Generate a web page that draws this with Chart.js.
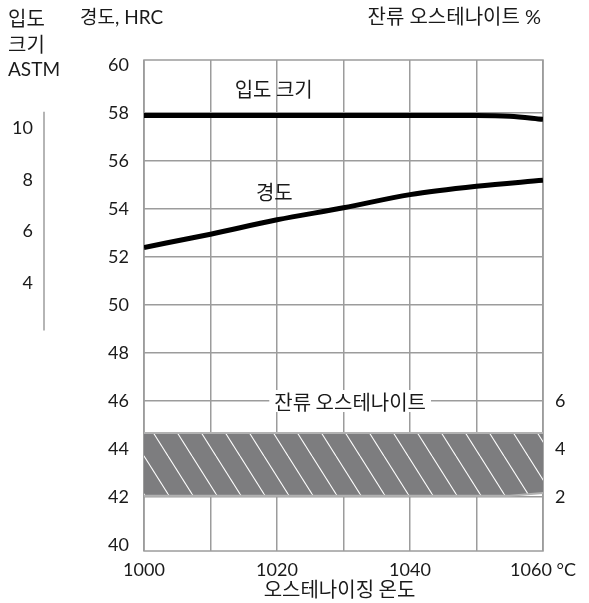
<!DOCTYPE html>
<html lang="ko">
<head>
  <meta charset="UTF-8" />
  <title>경도 / 입도 크기 / 잔류 오스테나이트</title>
  <script src="https://cdn.jsdelivr.net/npm/chart.js"></script>
  <style>
    body { margin: 0; background: #fff; }
    canvas { display: block; }
  </style>
</head>
<body>
  <canvas id="chart" width="589" height="603"></canvas>

  <script>
    // values
    const temps = [1000, 1010, 1020, 1030, 1040, 1050, 1060];
    const hardness = [52.4, 52.95, 53.55, 54.05, 54.6, 54.95, 55.2];

    const grainTemps = [1000, 1050, 1055, 1060];
    const grainSize = [57.9, 57.9, 57.87, 57.74];

    const bandTemps = [1000, 1055, 1060];
    const austeniteTop = [4.67, 4.67, 4.67];
    const austeniteBottom = [2.05, 2.05, 2.17];

    const tempLabels = [1000, 1020, 1040, 1060];
    const hrcTicks = [40, 42, 44, 46, 48, 50, 52, 54, 56, 58, 60];
    const pctTicks = [2, 4, 6];
    const astmTicks = [10, 8, 6, 4];

    const TEXT = '#1a1a1a';
    const GRID = '#9c9c9c';
    const KR = '20px "Noto Sans CJK KR"';
    const NUM = '18px Lato, "Noto Sans CJK KR"';

    const pts = (xs, ys) => xs.map((x, i) => ({ x: x, y: ys[i] }));

    // hatch for the retained austenite band
    const canvas = document.getElementById('chart');
    const tile = document.createElement('canvas');
    tile.width = 24;
    tile.height = 38;
    const t = tile.getContext('2d');
    t.fillStyle = '#7d7d7f';
    t.fillRect(0, 0, 24, 38);
    t.strokeStyle = '#fff';
    t.lineWidth = 1.1;
    [-24, 0, 24].forEach(dx => {
      t.beginPath();
      t.moveTo(dx, 0);
      t.lineTo(dx + 24, 38);
      t.stroke();
    });
    const hatch = canvas.getContext('2d').createPattern(tile, 'repeat');

    const extras = {
      id: 'extras',
      beforeDatasetsDraw(chart) {
        const { ctx, chartArea: a } = chart;
        ctx.save();
        ctx.strokeStyle = GRID;
        ctx.lineWidth = 1.5;
        ctx.strokeRect(a.left, a.top, a.right - a.left, a.bottom - a.top);
        ctx.restore();
      },
      afterDatasetsDraw(chart) {
        const { ctx, chartArea: a } = chart;
        const x = chart.scales.x, y = chart.scales.y;
        const pct = chart.scales.yPct, astm = chart.scales.yAstm;
        ctx.save();
        ctx.fillStyle = TEXT;
        ctx.textBaseline = 'middle';

        // labels inside the plot
        ctx.font = KR;
        ctx.textAlign = 'center';
        ctx.fillText('입도 크기', x.getPixelForValue(1019.5), y.getPixelForValue(59.0));
        ctx.fillText('경도', x.getPixelForValue(1019.6), y.getPixelForValue(54.7));

        const raLabel = '잔류 오스테나이트';
        const rx = x.getPixelForValue(1031);
        const ry = pct.getPixelForValue(6);
        const w = ctx.measureText(raLabel).width;
        ctx.fillStyle = '#fff';
        ctx.fillRect(rx - w / 2 - 5, ry - 11, w + 10, 22);
        ctx.fillStyle = TEXT;
        ctx.fillText(raLabel, rx, ry + 1);

        // ASTM grain size scale on the far left
        ctx.strokeStyle = GRID;
        ctx.lineWidth = 1.5;
        ctx.beginPath();
        ctx.moveTo(44, astm.getPixelForValue(10.65));
        ctx.lineTo(44, astm.getPixelForValue(2.15));
        ctx.stroke();
        ctx.font = NUM;
        ctx.textAlign = 'right';
        astmTicks.forEach(v => ctx.fillText(String(v), 33, astm.getPixelForValue(v)));

        // headers
        ctx.textAlign = 'left';
        ctx.font = KR;
        ctx.fillText('입도', 8, 18);
        ctx.fillText('크기', 8, 44);
        ctx.font = '19px Lato';
        ctx.fillText('ASTM', 8, 70);
        ctx.font = '19px Lato, "Noto Sans CJK KR"';
        ctx.fillText('경도, HRC', 80, 18);
        ctx.textAlign = 'right';
        ctx.font = '20px Lato, "Noto Sans CJK KR"';
        ctx.fillText('잔류 오스테나이트 %', 541, 18);

        // x axis title
        ctx.font = KR;
        ctx.textAlign = 'center';
        ctx.fillText('오스테나이징 온도', (a.left + a.right) / 2 - 4, 589);
        ctx.restore();
      }
    };

    new Chart(canvas, {
      type: 'line',
      data: {
        datasets: [
          {
            label: '입도 크기',
            data: pts(grainTemps, grainSize),
            borderColor: '#000',
            borderWidth: 5,
            pointRadius: 0,
            cubicInterpolationMode: 'monotone',
            fill: false,
            order: 0
          },
          {
            label: '경도',
            data: pts(temps, hardness),
            borderColor: '#000',
            borderWidth: 5,
            pointRadius: 0,
            cubicInterpolationMode: 'monotone',
            fill: false,
            order: 0
          },
          {
            label: '잔류 오스테나이트',
            data: pts(bandTemps, austeniteTop),
            yAxisID: 'yPct',
            borderColor: '#b2b2b2',
            borderWidth: 2,
            pointRadius: 0,
            backgroundColor: hatch,
            fill: '+1',
            order: 2
          },
          {
            label: 'band bottom',
            data: pts(bandTemps, austeniteBottom),
            yAxisID: 'yPct',
            borderColor: '#b2b2b2',
            borderWidth: 2,
            pointRadius: 0,
            fill: false,
            order: 1
          }
        ]
      },
      options: {
        responsive: false,
        animation: false,
        layout: { padding: { top: 60, left: 0, right: 0, bottom: 0 } },
        plugins: {
          legend: { display: false },
          tooltip: { enabled: false }
        },
        scales: {
          x: {
            type: 'linear',
            min: 1000,
            max: 1060,
            afterBuildTicks: s => { s.ticks = temps.map(v => ({ value: v })); },
            afterFit: s => { s.height = 52; },
            border: { display: false },
            grid: { color: GRID, lineWidth: 1.5, drawTicks: false },
            ticks: {
              padding: 8,
              maxRotation: 0,
              autoSkip: false,
              color: TEXT,
              font: { family: 'Lato', size: 18 },
              callback: v => tempLabels.includes(v) ? (v === 1060 ? '1060 °C' : String(v)) : ''
            }
          },
          y: {
            position: 'left',
            min: 39.75,
            max: 60.21,
            afterBuildTicks: s => { s.ticks = hrcTicks.map(v => ({ value: v })); },
            afterFit: s => { s.width = 144; },
            border: { display: false },
            grid: {
              drawTicks: false,
              lineWidth: 1.5,
              color: c => (c.tick && (c.tick.value === 40 || c.tick.value === 60)) ? 'rgba(0,0,0,0)' : GRID
            },
            ticks: {
              padding: 15,
              color: TEXT,
              font: { family: 'Lato', size: 18 }
            }
          },
          yPct: {
            axis: 'y',
            position: 'right',
            min: -0.25,
            max: 20.21,
            afterBuildTicks: s => { s.ticks = pctTicks.map(v => ({ value: v })); },
            afterFit: s => { s.width = 46; },
            border: { display: false },
            grid: { display: false, drawTicks: false },
            ticks: {
              padding: 12,
              color: TEXT,
              font: { family: 'Lato', size: 18 }
            }
          },
          yAstm: {
            axis: 'y',
            position: 'left',
            display: false,
            min: -6.41,
            max: 12.66
          }
        }
      },
      plugins: [extras]
    });
  </script>
</body>
</html>
